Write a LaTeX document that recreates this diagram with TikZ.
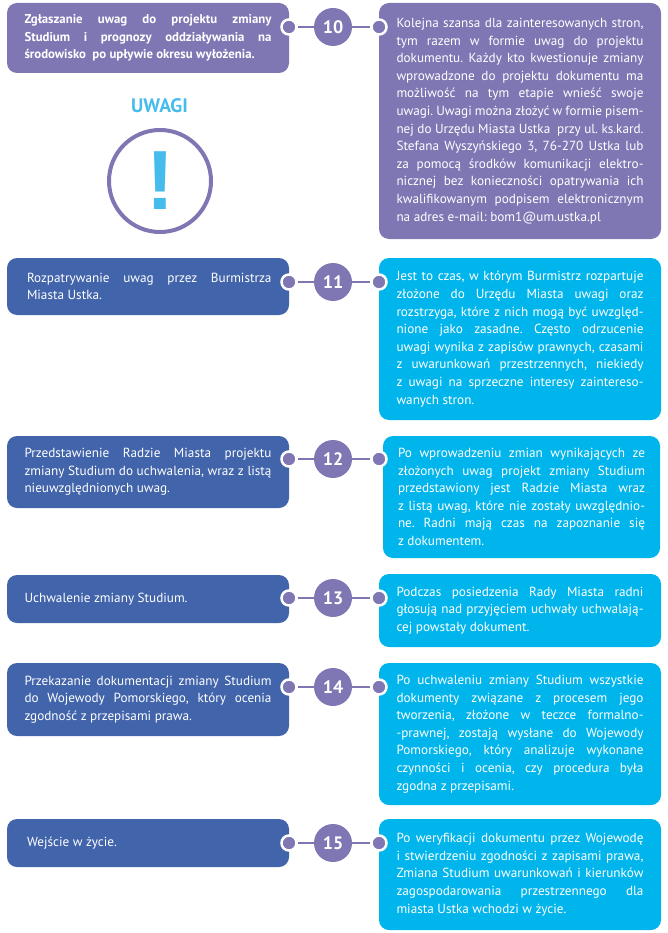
\documentclass[tikz,border=0pt]{standalone}
\usepackage{fontspec}
\setmainfont{PT Sans}
\newfontfamily\znak{Liberation Sans}
\definecolor{fiolet}{RGB}{127,119,180}
\definecolor{granat}{RGB}{66,100,170}
\definecolor{blekit}{RGB}{0,181,236}
\definecolor{jasny}{RGB}{69,188,236}
\newcommand{\lb}{\linebreak}
\tolerance=9999
\hyphenpenalty=10000
\hbadness=10000
\hfuzz=4pt
\frenchspacing
\tikzset{
  etap/.style={rounded corners=10pt, inner xsep=17.5pt, inner ysep=0pt, outer sep=0pt,
    minimum width=282pt, text width=247pt, align=justify, text=white,
    font=\fontsize{13.2}{17.6}\selectfont},
  lewy/.style={etap, fill=granat},
  prawy/.style={etap, fill=blekit},
  numer/.style={circle, fill=fiolet, text=white, inner sep=0pt, minimum size=38pt,
    font=\fontsize{18}{18}\selectfont\bfseries},
  kropka/.style={circle, fill=fiolet, draw=white, line width=2.5pt, inner sep=0pt, minimum size=15pt},
  linia/.style={fiolet, line width=2.5pt}
}
\begin{document}
\begin{tikzpicture}[x=1pt, y=-1pt]
  \useasboundingbox (0,0) rectangle (668,933);
  \node[lewy, fill=fiolet, minimum height=70pt, font=\fontsize{12.8}{17.6}\selectfont\bfseries] (a10) at (148,38)
    {\parfillskip=0pt Zgłaszanie uwag do projektu zmiany\lb Studium i prognozy oddziaływania na\lb środowisko\ \ po upływie okresu wyłożenia.};
  \node[prawy, fill=fiolet, minimum height=236pt] (b10) at (520,121)
    {Kolejna szansa dla zainteresowanych stron,\lb tym razem w formie uwag do projektu\lb dokumentu. Każdy kto kwestionuje zmiany\lb wprowadzone do projektu dokumentu ma\lb możliwość na tym etapie wnieść swoje\lb uwagi. Uwagi można złożyć w formie pisem-\lb nej do Urzędu Miasta Ustka\ \ przy ul. ks.kard.\lb Stefana Wyszyńskiego 3, 76-270 Ustka lub\lb za pomocą środków komunikacji elektro-\lb nicznej bez konieczności opatrywania ich\lb kwalifikowanym podpisem elektronicznym\lb na adres e-mail: bom1@um.ustka.pl};

  \node[font=\fontsize{19.5}{19.5}\selectfont\bfseries, text=jasny] (uwagi) at (159.5,106) {UWAGI};
  \node[circle, draw=fiolet, line width=4pt, minimum size=102pt, inner sep=0pt] (krag) at (160,181) {};
  \node[font=\fontsize{84}{84}\selectfont\znak\bfseries, text=jasny, inner sep=0pt] (wykrzyknik) at (160,181) {!};

  \node[lewy, minimum height=57pt] (a11) at (148,286.5)
    {\hspace*{2.5pt}Rozpatrywanie uwag przez Burmistrza\lb \hspace*{2.5pt}Miasta Ustka.};
  \node[prawy, minimum height=162pt] (b11) at (520,339)
    {Jest to czas, w którym Burmistrz rozpartuje\lb złożone do Urzędu Miasta uwagi oraz\lb rozstrzyga, które z nich mogą być uwzględ-\lb nione jako zasadne. Często odrzucenie\lb uwagi wynika z zapisów prawnych, czasami\lb z uwarunkowań przestrzennych, niekiedy\lb z uwagi na sprzeczne interesy zaintereso-\lb wanych stron.};

  \node[lewy, minimum height=72pt] (a12) at (148,472)
    {Przedstawienie Radzie Miasta projektu\lb zmiany Studium do uchwalenia, wraz z listą\lb nieuwzględnionych uwag.};
  \node[prawy, minimum width=277pt, inner xsep=15pt, minimum height=122pt] (b12) at (521.5,497)
    {Po wprowadzeniu zmian wynikających ze\lb złożonych uwag projekt zmiany Studium\lb przedstawiony jest Radzie Miasta wraz\lb z listą uwag, które nie zostały uwzględnio-\lb ne. Radni mają czas na zapoznanie się\lb z dokumentem.};

  \node[lewy, minimum height=48pt] (a13) at (148,599)
    {Uchwalenie zmiany Studium.};
  \node[prawy, minimum height=73pt] (b13) at (520,610.5)
    {Podczas posiedzenia Rady Miasta radni\lb głosują nad przyjęciem uchwały uchwalają-\lb cej powstały dokument.};

  \node[lewy, minimum height=73pt] (a14) at (148,699.5)
    {Przekazanie dokumentacji zmiany Studium\lb do Wojewody Pomorskiego, który ocenia\lb zgodność z przepisami prawa.};
  \node[prawy, minimum height=142pt] (b14) at (520,734)
    {Po uchwaleniu zmiany Studium wszystkie\lb dokumenty związane z procesem jego\lb tworzenia, złożone w teczce formalno-\lb -prawnej, zostają wysłane do Wojewody\lb Pomorskiego, który analizuje wykonane\lb czynności i ocenia, czy procedura była\lb zgodna z przepisami.};

  \node[lewy, minimum height=48pt] (a15) at (148,843)
    {\hspace*{2.5pt}Wejście w życie.};
  \node[prawy, minimum height=111pt] (b15) at (520,874.5)
    {Po weryfikacji dokumentu przez Wojewodę\lb i stwierdzeniu zgodności z zapisami prawa,\lb Zmiana Studium uwarunkowań i kierunków\lb zagospodarowania przestrzennego dla\lb miasta Ustka wchodzi w życie.};

  \foreach \y/\n in {27/10,282/11,459/12,598/13,687/14,843/15} {
    \node[numer] (n\n) at (333,\y) {\n};
    \node[kropka] (p\n) at (289,\y) {};
    \node[kropka] (q\n) at (379,\y) {};
    \draw[linia] (p\n) -- (n\n);
    \draw[linia] (n\n) -- (q\n);
  }
\end{tikzpicture}
\end{document}
